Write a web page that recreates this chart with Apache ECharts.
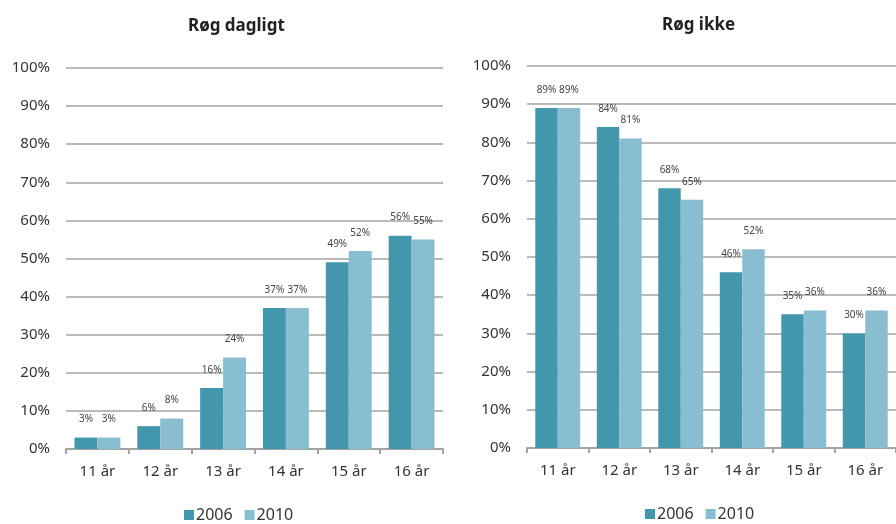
<!DOCTYPE html>
<html>
<head>
<meta charset="utf-8">
<script src="https://cdn.jsdelivr.net/npm/echarts@6/dist/echarts.min.js"></script>
<style>
  html, body { margin: 0; padding: 0; background: #fff; }
  #chart { width: 896px; height: 524px; }
</style>
</head>
<body>
<div id="chart"></div>
<script>
// Age groups and yearly survey shares (percent)
const ageGroups = ['11 år', '12 år', '13 år', '14 år', '15 år', '16 år'];
const years = ['2006', '2010'];

const dailySmoking2006 = [3, 6, 16, 37, 49, 56];
const dailySmoking2010 = [3, 8, 24, 37, 52, 55];

const nonSmoking2006 = [89, 84, 68, 46, 35, 30];
const nonSmoking2010 = [89, 81, 65, 52, 36, 36];

const panelTitles = ['Røg dagligt', 'Røg ikke'];

const color2006 = '#4397ac';
const color2010 = '#88bed0';
const gridColor = '#a3a3a3';
const font = '"Noto Sans", "DejaVu Sans", sans-serif';

function barSeries(name, data, axisIdx, color) {
  return {
    name: name,
    type: 'bar',
    xAxisIndex: axisIdx,
    yAxisIndex: axisIdx,
    data: data,
    barGap: '0%',
    barCategoryGap: '27%',
    itemStyle: { color: color },
    label: {
      show: true,
      position: 'top',
      distance: 13,
      formatter: '{c}%',
      fontFamily: font,
      fontSize: 10,
      color: '#444'
    }
  };
}

function xAxisDef(gridIdx) {
  return {
    type: 'category',
    gridIndex: gridIdx,
    data: ageGroups,
    axisLine: { lineStyle: { color: gridColor, width: 2 } },
    axisTick: { show: true, length: 5, lineStyle: { color: gridColor, width: 2 } },
    axisLabel: { fontFamily: font, fontSize: 15, color: '#333', margin: 15 }
  };
}

function yAxisDef(gridIdx) {
  return {
    type: 'value',
    gridIndex: gridIdx,
    min: 0,
    max: 100,
    interval: 10,
    axisLine: { show: false },
    axisTick: { show: false },
    axisLabel: { fontFamily: font, fontSize: 15, color: '#333', margin: 16, formatter: '{value}%' },
    splitLine: { lineStyle: { color: gridColor, width: 1.5 } }
  };
}

const chart = echarts.init(document.getElementById('chart'), null, { renderer: 'canvas' });

chart.setOption({
  animation: false,
  backgroundColor: '#fff',
  title: [
    {
      text: panelTitles[0], left: 183, top: 13,
      textStyle: { fontFamily: font, fontSize: 17, fontWeight: 'bold', color: '#222' }
    },
    {
      text: panelTitles[1], left: 657, top: 12,
      textStyle: { fontFamily: font, fontSize: 17, fontWeight: 'bold', color: '#222' }
    }
  ],
  legend: [
    {
      data: years, left: 179, top: 502, itemWidth: 10, itemHeight: 10, itemGap: 12,
      icon: 'rect',
      textStyle: { fontFamily: font, fontSize: 16, color: '#333', padding: [0, 0, 0, -3] }
    },
    {
      data: years, left: 640, top: 501, itemWidth: 10, itemHeight: 10, itemGap: 12,
      icon: 'rect',
      textStyle: { fontFamily: font, fontSize: 16, color: '#333', padding: [0, 0, 0, -3] }
    }
  ],
  grid: [
    { left: 66, width: 377, top: 68, height: 381 },
    { left: 527, width: 378, top: 66, height: 382 }
  ],
  xAxis: [xAxisDef(0), xAxisDef(1)],
  yAxis: [yAxisDef(0), yAxisDef(1)],
  series: [
    barSeries(years[0], dailySmoking2006, 0, color2006),
    barSeries(years[1], dailySmoking2010, 0, color2010),
    barSeries(years[0], nonSmoking2006, 1, color2006),
    barSeries(years[1], nonSmoking2010, 1, color2010)
  ]
});
</script>
</body>
</html>
